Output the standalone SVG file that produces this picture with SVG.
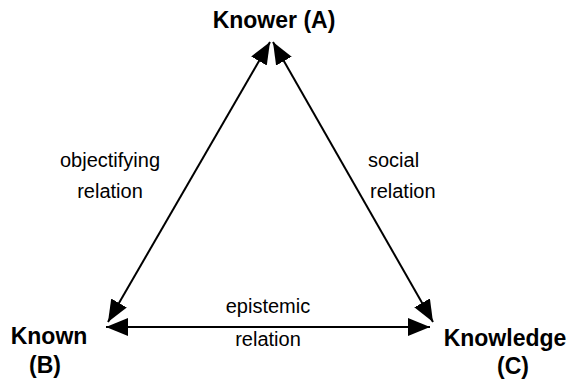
<svg xmlns="http://www.w3.org/2000/svg" width="575" height="380" viewBox="0 0 575 380">
<style>
.b{font-family:"Liberation Sans",Arial,sans-serif;font-weight:bold;font-size:23px;fill:#000}
.r{font-family:"Liberation Sans",Arial,sans-serif;font-size:20px;fill:#000}
.c{stroke:#000;stroke-width:2;fill:none}
</style>
<defs>
<marker id="ah" markerUnits="userSpaceOnUse" markerWidth="24" markerHeight="20" refX="22" refY="9" orient="auto-start-reverse" viewBox="0 0 24 20">
<path d="M0,0 L22,9 L0,18 z" fill="#000"/>
</marker>
</defs>
<rect width="575" height="380" fill="#fff"/>
<g id="connectors">
<line class="c" x1="270" y1="42" x2="108" y2="322" marker-start="url(#ah)" marker-end="url(#ah)"/>
<line class="c" x1="273" y1="42" x2="433" y2="322" marker-start="url(#ah)" marker-end="url(#ah)"/>
<line class="c" x1="106" y1="327" x2="430" y2="327" marker-start="url(#ah)" marker-end="url(#ah)"/>
<text class="r" x="110" y="167" text-anchor="middle">objectifying</text>
<text class="r" x="110" y="198" text-anchor="middle">relation</text>
<text class="r" x="368" y="167">social</text>
<text class="r" x="370" y="198">relation</text>
<text class="r" x="268" y="313" text-anchor="middle">epistemic</text>
<text class="r" x="268" y="346" text-anchor="middle">relation</text>
</g>
<g id="nodeA"><text class="b" x="274" y="28" text-anchor="middle">Knower (A)</text></g>
<g id="nodeB"><text class="b" x="49" y="344" text-anchor="middle">Known</text><text class="b" x="45" y="373" text-anchor="middle">(B)</text></g>
<g id="nodeC"><text class="b" x="505" y="346" text-anchor="middle">Knowledge</text><text class="b" x="513" y="374" text-anchor="middle">(C)</text></g>
</svg>
